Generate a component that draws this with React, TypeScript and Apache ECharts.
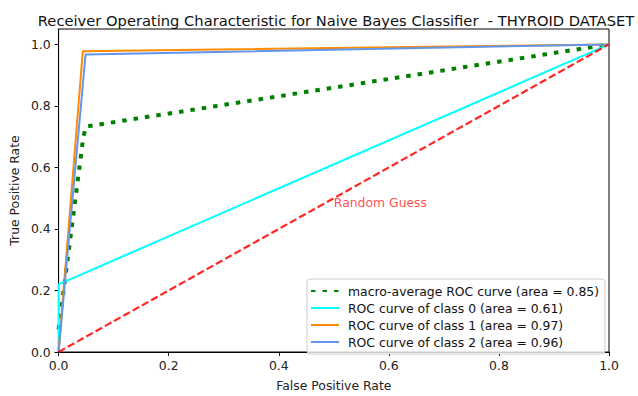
import React, { useEffect, useRef } from "react";
import * as echarts from "echarts";

const chartTitle = "Receiver Operating Characteristic for Naive Bayes Classifier  - THYROID DATASET";
const xName = "False Positive Rate";
const yName = "True Positive Rate";
const tickValues = [0, 0.2, 0.4, 0.6, 0.8, 1.0];

const macroName = "macro-average ROC curve (area = 0.85)";
const macroFpr = [0, 0.045, 0.05, 1];
const macroTpr = [0.073, 0.7, 0.733, 1];

const class0Name = "ROC curve of class 0 (area = 0.61)";
const class0Fpr = [0, 0, 1];
const class0Tpr = [0, 0.22, 1];

const class1Name = "ROC curve of class 1 (area = 0.97)";
const class1Fpr = [0, 0.044, 1];
const class1Tpr = [0, 0.978, 1];

const class2Name = "ROC curve of class 2 (area = 0.96)";
const class2Fpr = [0, 0.049, 1];
const class2Tpr = [0, 0.967, 1];

const chanceFpr = [0, 1];
const chanceTpr = [0, 1];
const chanceLabel = "Random Guess";
const chanceLabelPoint = [0.5, 0.5];

const FONT = "DejaVu Sans";
const FS = 12.4;

const zip = (xs: number[], ys: number[]) => xs.map((x, i) => [x, ys[i]]);

export default function App() {
  const ref = useRef<HTMLDivElement>(null);
  useEffect(() => {
    if (!ref.current) return;
    const chart = echarts.init(ref.current, null, { renderer: "svg" });
    const axisCommon = {
      type: "value" as const,
      min: 0,
      splitLine: { show: false },
      axisLine: { show: true, lineStyle: { color: "#000", width: 1 } },
      axisTick: { show: true, length: 4, lineStyle: { color: "#000" }, customValues: tickValues },
      axisLabel: {
        color: "#222",
        fontFamily: FONT,
        fontSize: FS,
        customValues: tickValues,
        formatter: (v: number) => v.toFixed(1),
      },
      nameLocation: "middle" as const,
      nameTextStyle: { color: "#222", fontFamily: FONT, fontSize: FS },
    };
    chart.setOption({
      animation: false,
      backgroundColor: "#fff",
      title: {
        text: chartTitle,
        left: 331,
        top: 8,
        textAlign: "center",
        textStyle: { fontFamily: FONT, fontSize: 14.7, fontWeight: "normal", color: "#111" },
      },
      grid: {
        left: 57,
        right: 29,
        top: 29,
        bottom: 35,
        show: true,
        borderColor: "#000",
        borderWidth: 1,
        containLabel: false,
      },
      xAxis: { ...axisCommon, max: 1, name: xName, nameGap: 27, axisLabel: { ...axisCommon.axisLabel, margin: 7 } },
      yAxis: { ...axisCommon, max: 1.05, name: yName, nameGap: 34, axisLabel: { ...axisCommon.axisLabel, margin: 8 } },
      legend: {
        orient: "vertical",
        left: 307,
        top: 279,
        data: [macroName, class0Name, class1Name, class2Name],
        itemWidth: 28,
        itemHeight: 14,
        itemGap: 3,
        padding: [5, 6, 5, 3],
        backgroundColor: "rgba(255,255,255,0.8)",
        borderColor: "#ccc",
        borderWidth: 1,
        borderRadius: 3,
        itemStyle: { opacity: 0, borderWidth: 0 },
        textStyle: { fontFamily: FONT, fontSize: FS, lineHeight: 14, color: "#111", padding: [0, 0, 0, 4] },
      },
      series: [
        {
          name: macroName,
          type: "line",
          data: zip(macroFpr, macroTpr),
          symbol: "none",
          lineStyle: { color: "#008000", width: 4, type: [4.5, 7], cap: "butt" },
          itemStyle: { color: "#008000" },
        },
        {
          name: class0Name,
          type: "line",
          data: zip(class0Fpr, class0Tpr),
          symbol: "none",
          lineStyle: { color: "#00ffff", width: 2 },
          itemStyle: { color: "#00ffff" },
        },
        {
          name: class1Name,
          type: "line",
          data: zip(class1Fpr, class1Tpr),
          symbol: "none",
          lineStyle: { color: "#ff8c00", width: 2 },
          itemStyle: { color: "#ff8c00" },
        },
        {
          name: class2Name,
          type: "line",
          data: zip(class2Fpr, class2Tpr),
          symbol: "none",
          lineStyle: { color: "#6495ed", width: 2 },
          itemStyle: { color: "#6495ed" },
        },
        {
          name: "chance",
          type: "line",
          data: zip(chanceFpr, chanceTpr),
          symbol: "none",
          lineStyle: { color: "rgba(255,0,0,0.85)", width: 2.2, type: [7.4, 3.2], cap: "butt" },
        },
        {
          name: "chanceLabel",
          type: "scatter",
          data: [chanceLabelPoint],
          symbolSize: 0,
          silent: true,
          label: {
            show: true,
            position: "right",
            distance: 0,
            offset: [0, 4],
            formatter: chanceLabel,
            color: "#ff2020",
            fontFamily: FONT,
            fontSize: FS,
          },
        },
      ],
    });
    return () => chart.dispose();
  }, []);
  return (
    <div
      ref={ref}
      style={{ position: "fixed", left: 0, top: 0, width: 638, height: 396 }}
    />
  );
}
